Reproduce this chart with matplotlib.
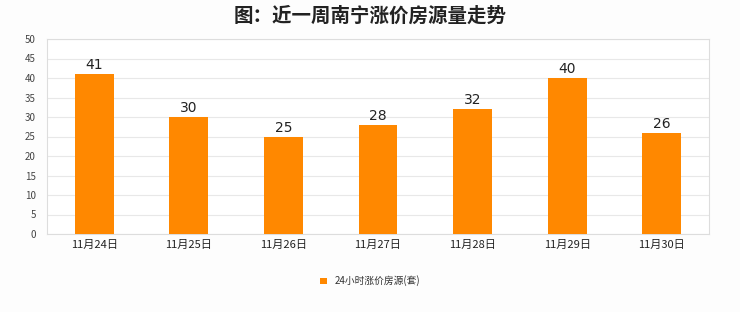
import matplotlib
matplotlib.use("Agg")
import matplotlib.pyplot as plt

plt.rcParams['font.family'] = ['Noto Sans CJK SC', 'DejaVu Sans']

categories = ["11月24日", "11月25日", "11月26日", "11月27日", "11月28日", "11月29日", "11月30日"]
values = [41, 30, 25, 28, 32, 40, 26]
yticks = [0, 5, 10, 15, 20, 25, 30, 35, 40, 45, 50]
series_name = "24小时涨价房源(套)"
title = "图：近一周南宁涨价房源量走势"

fig = plt.figure(figsize=(7.4, 3.12), dpi=100)
fig.patch.set_facecolor("#fdfdfd")
ax = fig.add_axes([47/740, 1 - 234/312, 662/740, 195/312])
ax.set_facecolor("white")

x = list(range(len(categories)))
bars = ax.bar(x, values, width=0.41, color="#FF8800", zorder=3, label=series_name)
for xi, v in zip(x, values):
    ax.text(xi, v + 0.5, str(v), ha="center", va="bottom", fontsize=10, color="#222222",
            family="DejaVu Sans", zorder=4)

ax.set_xlim(-0.5, len(categories) - 0.5)
ax.set_ylim(0, 50)
ax.set_yticks(yticks)
ax.set_yticklabels([str(t) for t in yticks], fontsize=7, color="#444444")
ax.set_xticks(x)
ax.set_xticklabels(categories, fontsize=8, color="#222222")
ax.tick_params(axis="both", length=0, pad=4)
ax.tick_params(axis="y", pad=8)
ax.grid(axis="y", color="#e8e8e8", linewidth=0.8, zorder=0)
for s in ax.spines.values():
    s.set_color("#dddddd")
    s.set_linewidth(0.8)

fig.text(0.5, 1 - 16/312, title, ha="center", va="center", fontsize=14, fontweight="bold", color="#222222")

leg = fig.legend(handles=[bars], labels=[series_name], loc="center", bbox_to_anchor=(370/740, 1 - 281/312),
                 frameon=False, fontsize=7, handlelength=0.7, handleheight=0.7, handletextpad=0.8)
for t in leg.get_texts():
    t.set_color("#333333")

fig.savefig("out.png", dpi=100, facecolor=fig.get_facecolor())
